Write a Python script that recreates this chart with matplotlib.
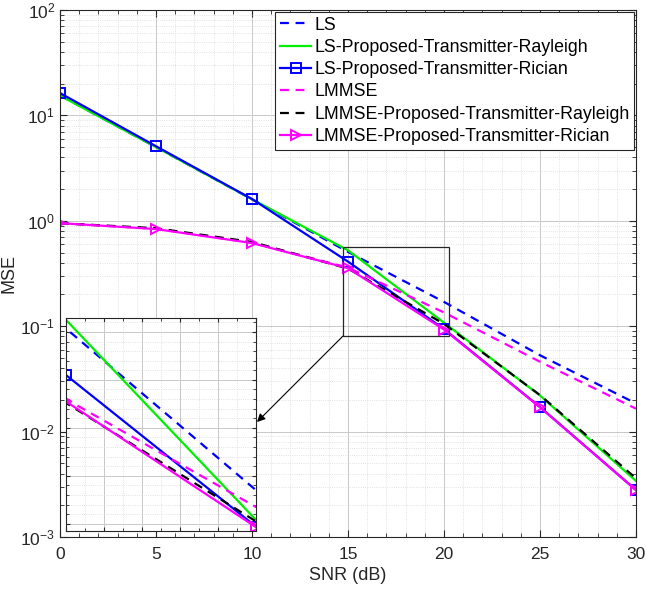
import matplotlib
matplotlib.use("Agg")
import matplotlib.pyplot as plt
from matplotlib.ticker import LogLocator, MultipleLocator, NullFormatter
from matplotlib.patches import Rectangle

plt.rcParams['font.family'] = ['Liberation Sans', 'DejaVu Sans']
plt.rcParams['mathtext.fontset'] = 'custom'
plt.rcParams['mathtext.rm'] = 'Liberation Sans'
plt.rcParams['mathtext.it'] = 'Liberation Sans'

snr = [0, 5, 10, 15, 20, 25, 30]
ls = [15.5, 5.0, 1.6, 0.507, 0.17, 0.053, 0.0185]
ls_rayleigh = [15.4, 5.0, 1.6, 0.525, 0.108, 0.022, 0.0034]
ls_rician = [16.3, 5.1, 1.61, 0.41, 0.094, 0.0171, 0.00279]
lmmse = [0.95, 0.84, 0.62, 0.36, 0.135, 0.046, 0.0165]
lmmse_rayleigh = [0.95, 0.85, 0.63, 0.352, 0.105, 0.0222, 0.0036]
lmmse_rician = [0.95, 0.835, 0.615, 0.355, 0.093, 0.0170, 0.00278]

labels = ['LS', 'LS-Proposed-Transmitter-Rayleigh', 'LS-Proposed-Transmitter-Rician',
          'LMMSE', 'LMMSE-Proposed-Transmitter-Rayleigh', 'LMMSE-Proposed-Transmitter-Rician']
xticks = [0, 5, 10, 15, 20, 25, 30]

BLUE = '#0000ff'
GREEN = '#00ee00'
MAG = '#ff00ff'
lw = 1.6

def draw(ax):
    ax.plot(snr, ls, '--', color=BLUE, lw=lw, dashes=(4, 3), label=labels[0])
    ax.plot(snr, ls_rayleigh, '-', color=GREEN, lw=lw, label=labels[1])
    ax.plot(snr, ls_rician, '-', color=BLUE, lw=lw, marker='s', ms=6.5, mfc='none', mew=1.4, label=labels[2])
    ax.plot(snr, lmmse, '--', color=MAG, lw=lw, dashes=(4, 3), label=labels[3])
    ax.plot(snr, lmmse_rayleigh, '--', color='black', lw=lw, dashes=(4, 3), label=labels[4])
    ax.plot(snr, lmmse_rician, '-', color=MAG, lw=lw, marker='>', ms=7.5, mfc='none', mew=1.4, label=labels[5])

fig = plt.figure(figsize=(6.46, 5.89), dpi=100)
ax = fig.add_axes([60/646, 1-537/589, 576/646, 527/589])
draw(ax)
ax.set_yscale('log')
ax.set_xlim(0, 30)
ax.set_ylim(1e-3, 1e2)
ax.set_xticks(xticks)
ax.xaxis.set_minor_locator(MultipleLocator(1))
ax.yaxis.set_major_locator(LogLocator(base=10, numticks=10))
ax.yaxis.set_minor_locator(LogLocator(base=10, subs=range(2, 10), numticks=20))
ax.yaxis.set_minor_formatter(NullFormatter())
ax.grid(True, which='major', color='#c8c8c8', lw=0.7, ls='-')
ax.grid(True, which='minor', color='#d8d8d8', lw=0.6, ls=':')
ax.set_axisbelow(True)
ax.tick_params(which='both', direction='in', top=True, right=True, colors='#262626', labelsize=12.5)
ax.tick_params(axis='x', which='major', pad=7)
ax.tick_params(which='major', length=5)
ax.tick_params(which='minor', length=3)
for s in ax.spines.values():
    s.set_color('#262626')
    s.set_linewidth(0.8)
ax.set_xlabel('SNR (dB)', fontsize=13, color='#262626', labelpad=4)
ax.set_ylabel('MSE', fontsize=13, color='#262626')
ax.yaxis.set_label_coords(-0.074, 0.5)

leg = ax.legend(loc='upper right', bbox_to_anchor=(0.997, 0.997), fontsize=12.75, frameon=True,
                fancybox=False, handlelength=1.75, handletextpad=0.15, labelspacing=0.3,
                borderpad=0.28, borderaxespad=0.0)
leg.get_frame().set_edgecolor('#262626')
leg.get_frame().set_linewidth(0.8)
leg.get_frame().set_alpha(1)

# zoom rectangle
rx0, rx1 = 14.74, 20.26
ry0, ry1 = 0.0807, 0.564
ax.add_patch(Rectangle((rx0, ry0), rx1 - rx0, ry1 - ry0, fill=False, ec='#262626', lw=0.9, zorder=5))

# inset
axi = fig.add_axes([66/646, 1-531/589, 190/646, 213/589])
draw(axi)
axi.set_xlim(15, 20)
axi.set_ylim(0.085, 0.529)
axi.xaxis.set_major_locator(MultipleLocator(1))
axi.xaxis.set_minor_locator(MultipleLocator(0.5))
axi.yaxis.set_major_locator(MultipleLocator(0.1))
axi.yaxis.set_minor_locator(MultipleLocator(0.02))
axi.set_xticklabels([])
axi.set_yticklabels([])
axi.grid(True, which='major', color='#c8c8c8', lw=0.7, ls='-')
axi.grid(True, which='minor', color='#d8d8d8', lw=0.6, ls=':')
axi.set_axisbelow(True)
axi.tick_params(which='both', direction='in', top=True, right=True, colors='#262626')
axi.tick_params(which='major', length=3)
axi.tick_params(which='minor', length=2)
for s in axi.spines.values():
    s.set_color('#262626')
    s.set_linewidth(0.8)

# arrow from rectangle corner to inset
ax.annotate('', xy=(257/646, 1-422/589), xycoords='figure fraction',
            xytext=(rx0, ry0), textcoords='data',
            arrowprops=dict(arrowstyle='-|>', color='black', lw=0.8,
                            mutation_scale=12, shrinkA=0, shrinkB=0), zorder=6)

fig.savefig('out.png', dpi=100)
